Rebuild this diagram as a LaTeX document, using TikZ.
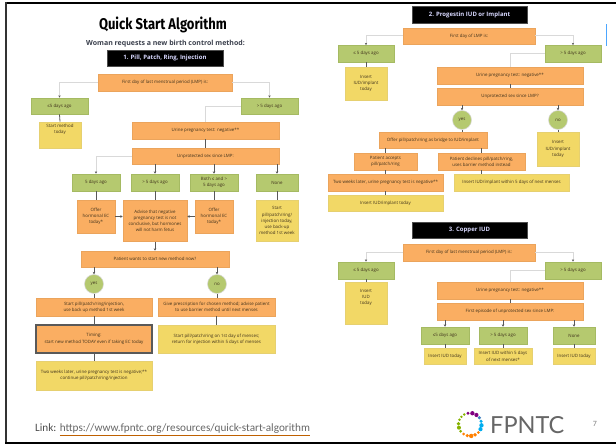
\documentclass[tikz,border=0pt]{standalone}
\usepackage{fontspec}
\usepackage{graphicx}
\setmainfont{Open Sans}
\newfontfamily\titlefont{Fira Sans}
\newfontfamily\slidefont{Carlito}
\newfontfamily\logofont{Lato}
\usetikzlibrary{arrows.meta}
\definecolor{orangefill}{HTML}{FAAE62}
\definecolor{orangeline}{HTML}{EBA45C}
\definecolor{greenfill}{HTML}{B5C96F}
\definecolor{greenline}{HTML}{A5BA62}
\definecolor{yellowfill}{HTML}{F2D866}
\definecolor{yellowline}{HTML}{E6D070}
\definecolor{softline}{HTML}{D9D9D9}
\definecolor{hardline}{HTML}{595959}
\definecolor{inktext}{HTML}{40321C}
\definecolor{subtext}{HTML}{3A3F4C}
\tikzset{
  x=1pt,y=-1pt,
  boxbase/.style={draw,line width=.6pt,inner sep=.5pt,align=center,text=inktext,font=\fontsize{4.4}{6.2}\selectfont},
  orangebox/.style={boxbase,fill=orangefill,draw=orangeline},
  greenbox/.style={boxbase,fill=greenfill,draw=greenline},
  yellowbox/.style={boxbase,fill=yellowfill,draw=yellowline},
  timingbox/.style={boxbase,fill=orangefill,draw=hardline,line width=1.2pt},
  blackbox/.style={draw=black!70,line width=.5pt,fill=black,text=white!85!blue,inner sep=0pt,align=center,font=\fontsize{6}{7}\selectfont\bfseries},
  roundbox/.style={circle,fill=greenfill,draw=white!85!black,line width=.5pt,inner sep=0pt,minimum size=19pt,text=inktext,font=\fontsize{4.4}{6}\selectfont},
  softarrow/.style={draw=softline,line width=1pt,-{Stealth[length=2.4pt,width=2.4pt,color=hardline]}},
  softlink/.style={draw=softline,line width=1pt},
  hardarrow/.style={draw=hardline,line width=.8pt,-{Stealth[length=2.4pt,width=2.6pt]}},
  hardlink/.style={draw=hardline,line width=.8pt},
}
\newcommand{\bx}[7]{\node[#6,minimum width={(#4-#2)*1pt},minimum height={(#5-#3)*1pt}] (#1) at ({(#2+#4)/2},{(#3+#5)/2}) {#7};}
\begin{document}
\begin{tikzpicture}
\useasboundingbox (0,0) rectangle (616,444);
\fill[white] (0,0) rectangle (616,444);
% slide frame
\fill[black] (5,2) rectangle (616,4.5);
\fill[black!80] (5,2) rectangle (7,444);
\fill[black] (5,441.5) rectangle (616,444);
\fill[blue!50!cyan!70!white] (606,24) rectangle (607.2,46);

% ---------- panel 1
\node[font=\titlefont\fontsize{15.5}{17}\selectfont\bfseries,text=black] (title) at (163,25) {\scalebox{.84}[1]{Quick Start Algorithm}};
\node[font=\fontsize{7}{8}\selectfont\bfseries,text=subtext] (sub) at (165.5,43.5) {Woman requests a new birth control method:};
\bx{pa}{107}{50}{223}{66}{blackbox}{1. Pill, Patch, Ring, Injection}
\bx{pafirst}{98}{74}{232}{91}{orangebox}{First day of last menstrual period (LMP) is:}
\bx{pale}{31}{98}{88}{114}{greenbox}{≤5 days ago}
\bx{pagt}{241}{98}{298}{114}{greenbox}{> 5 days ago}
\bx{pastart}{39}{122}{81}{148}{yellowbox}{Start method\\today\\[6pt]}
\bx{paurine}{132}{122}{279}{139}{orangebox}{Urine pregnancy test: negative**}
\bx{pasex}{132}{148}{279}{164}{orangebox}{Unprotected sex since LMP:}
\bx{parowa}{72}{174}{120}{191}{greenbox}{5 days ago}
\bx{parowb}{131}{174}{179}{191}{greenbox}{> 5 days ago}
\bx{parowc}{190}{174}{238}{191}{greenbox}{Both ≤ and >\\5 days ago}
\bx{parowd}{256}{174}{298}{191}{greenbox}{None}
\bx{paofa}{77}{200}{115}{233}{orangebox}{Offer\\hormonal EC\\today*}
\bx{paadv}{123}{200}{187}{241.5}{orangebox}{Advise that negative\\pregnancy test is not\\conclusive, but hormones\\will not harm fetus}
\bx{paofb}{195}{200}{233}{233}{orangebox}{Offer\\hormonal EC\\today*}
\bx{panone}{256}{200}{298}{241.5}{yellowbox}{Start\\pill/patch/ring/\\injection today,\\use back-up\\method 1st week}
\bx{pawant}{81}{251}{229}{267}{orangebox}{Patient wants to start new method now?}
\node[roundbox] (payes) at (94,284) {yes};
\node[roundbox] (pano) at (217,284) {no};
\bx{pause}{36}{298}{152}{316}{orangebox}{Start pill/patch/ring/injection,\\use back up method 1st week}
\bx{pagive}{158}{298}{275}{316}{orangebox}{Give prescription for chosen method; advise patient\\to use barrier method until next menses}
\bx{patime}{36}{325}{152}{353}{timingbox}{Timing:\\start new method TODAY even if taking EC today}
\bx{pamen}{158}{325}{275}{353}{yellowbox}{Start pill/patch/ring on 1st day of menses;\\return for injection within 5 days of menses}
\bx{patwo}{36}{361.5}{152}{390}{yellowbox}{Two weeks later, urine pregnancy test is negative;**\\continue pill/patch/ring/injection}

\draw[softarrow] (pafirst.west) -| (pale.north);
\draw[softarrow] (pafirst.east) -| (pagt.north);
\draw[hardlink] (pale.south) -- (pastart.north);
\draw[softlink] (pagt.west) -| (paurine.north);
\draw[hardlink] (paurine.south) -- (pasex.north);
\draw[softarrow] (pasex.west) -| (parowa.north);
\draw[hardarrow] (pasex.south -| parowb.north) -- (parowb.north);
\draw[hardarrow] (pasex.south -| parowc.north) -- (parowc.north);
\draw[hardarrow] (pasex.south -| parowd.north) -- (parowd.north);
\draw[hardlink] (parowa.south) -- (paofa.north);
\draw[hardlink] (parowb.south) -- (paadv.north);
\draw[hardlink] (parowc.south) -- (paofb.north);
\draw[hardlink] (parowd.south) -- (panone.north);
\draw[hardarrow] (paofa.east) -- (paofa.east -| paadv.west);
\draw[hardarrow] (paofb.west) -- (paofb.west -| paadv.east);
\draw[hardarrow] (paadv.south) -- (paadv.south |- pawant.north);
\draw[hardarrow] (pawant.south -| payes.north) -- (payes.north);
\draw[hardarrow] (pawant.south -| pano.north) -- (pano.north);
\draw[hardlink] (payes.south) -- (payes.south |- pause.north);
\draw[hardlink] (pano.south) -- (pano.south |- pagive.north);
\draw[hardlink] (pause.south) -- (patime.north);
\draw[hardlink] (pagive.south) -- (pamen.north);
\draw[hardlink] (patime.south) -- (patwo.north);

% ---------- panel 2
\bx{pb}{412}{6}{527}{23}{blackbox}{2. Progestin IUD or Implant}
\bx{pbfirst}{403}{28}{535}{44}{orangebox}{First day of LMP is:}
\bx{pble}{338}{45.5}{394}{62}{greenbox}{≤ 5 days ago}
\bx{pbgt}{545}{45.5}{601}{62}{greenbox}{> 5 days ago}
\bx{pbins}{345}{67}{387}{100}{yellowbox}{Insert\\IUD/implant\\today}
\bx{pburine}{437}{67}{583}{84}{orangebox}{Urine pregnancy test: negative**}
\bx{pbsex}{437}{88}{583}{105}{orangebox}{Unprotected sex since LMP?}
\node[roundbox] (pbyes) at (462,120) {yes};
\node[roundbox] (pbno) at (558,120) {no};
\bx{pboffer}{379}{132}{487}{148}{orangebox}{Offer pill/patch/ring as bridge to IUD/implant}
\bx{pbaccept}{354}{153}{417}{170}{orangebox}{Patient accepts\\pill/patch/ring}
\bx{pbdecl}{438}{153}{525}{170}{orangebox}{Patient declines pill/patch/ring,\\uses barrier method instead}
\bx{pbinsno}{537}{132}{579}{166}{yellowbox}{Insert\\IUD/implant\\today}
\bx{pbtwo}{328}{174}{443}{191}{orangebox}{Two weeks later, urine pregnancy test is negative**}
\bx{pbwithin}{454}{174}{569}{191}{yellowbox}{Insert IUD/implant within 5 days of next menses}
\bx{pbtoday}{328}{195}{443}{211}{yellowbox}{Insert IUD/implant today}

\draw[softarrow] (pbfirst.west) -| (pble.north);
\draw[softarrow] (pbfirst.east) -| (pbgt.north);
\draw[hardlink] (pble.south) -- (pble.south |- pbins.north);
\draw[softlink] (pbgt.west) -| (pburine.north);
\draw[hardlink] (pburine.south) -- (pbsex.north);
\draw[hardarrow] (pbsex.south -| pbyes.north) -- (pbyes.north);
\draw[hardarrow] (pbsex.south -| pbno.north) -- (pbno.north);
\draw[hardlink] (pbyes.south) -- (pbyes.south |- pboffer.north);
\draw[hardlink] (pbno.south) -- (pbno.south |- pbinsno.north);
\draw[hardlink] (pboffer.south -| pbaccept.north) -- (pbaccept.north);
\draw[hardlink] (pboffer.south -| pbdecl.north) -- (pbdecl.north);
\draw[hardlink] (pbaccept.south) -- (pbaccept.south |- pbtwo.north);
\draw[hardlink] (pbdecl.south) -- (pbdecl.south |- pbwithin.north);
\draw[hardlink] (pbtwo.south -| pbaccept.south) -- (pbtoday.north -| pbaccept.south);

% ---------- panel 3
\bx{pc}{412}{222}{527}{238.5}{blackbox}{3. Copper IUD}
\bx{pcfirst}{403}{244}{535}{261}{orangebox}{First day of last menstrual period (LMP) is:}
\bx{pcle}{338}{262}{394}{279}{greenbox}{≤ 5 days ago}
\bx{pcgt}{545}{262}{601}{279}{greenbox}{> 5 days ago}
\bx{pcins}{345}{282.5}{387}{324}{yellowbox}{Insert\\IUD\\today\\[7pt]}
\bx{pcurine}{437}{282.5}{583}{299}{orangebox}{Urine pregnancy test: negative**}
\bx{pcsex}{437}{303.5}{583}{320}{orangebox}{First episode of unprotected sex since LMP:}
\bx{pcrowa}{421}{327}{469}{344}{greenbox}{≤5 days ago}
\bx{pcrowb}{479}{327}{527}{344}{greenbox}{> 5 days ago}
\bx{pcrowc}{553}{327}{595}{344}{greenbox}{None}
\bx{pcresa}{424}{348}{466}{364.5}{yellowbox}{Insert IUD today}
\bx{pcresb}{474}{348}{532}{364.5}{yellowbox}{Insert IUD within 5 days\\of next menses*}
\bx{pcresc}{553}{348}{595}{364.5}{yellowbox}{Insert IUD today}

\draw[softarrow] (pcfirst.west) -| (pcle.north);
\draw[softarrow] (pcfirst.east) -| (pcgt.north);
\draw[hardlink] (pcle.south) -- (pcle.south |- pcins.north);
\draw[softlink] (pcgt.west) -| (pcurine.north);
\draw[hardlink] (pcurine.south) -- (pcsex.north);
\draw[hardarrow] (pcsex.south -| pcrowa.north) -- (pcrowa.north);
\draw[hardarrow] (pcsex.south -| pcrowb.north) -- (pcrowb.north);
\draw[hardarrow] (pcsex.south -| pcrowc.north) -- (pcrowc.north);
\draw[hardlink] (pcrowa.south) -- (pcresa.north);
\draw[hardlink] (pcrowb.south) -- (pcrowb.south |- pcresb.north);
\draw[hardlink] (pcrowc.south) -- (pcresc.north);

% ---------- footer
\node[anchor=west,inner sep=0pt,font=\slidefont\fontsize{11.2}{13}\selectfont,text=black!70] (linklabel) at (35,430) {Link: {\color{orange!75!black}\underline{\color{black!60}https://www.fpntc.org/resources/quick-start-algorithm}}};
\foreach \a/\c/\r in {
  100/violet/1.6,78/violet/2.2,56/violet/2.1,36/violet!50!cyan/1.7,
  16/cyan/1.7,-4/cyan/2.2,-24/cyan/2.1,
  -44/orange/1.5,-64/orange/1.9,-84/orange/2.2,-104/orange/1.8,-124/orange/1.5,
  -144/lime!70!black/1.5,-164/lime!70!black/2,176/lime!70!black/1.9,156/lime!70!black/1.4,
  138/lime!70!black/1.3,120/lime!70!black/1.3}
  \fill[\c] ({470+11.5*cos(\a)},{424.5-11.5*sin(\a)}) circle (\r);
\node[anchor=west,inner sep=0pt,font=\logofont\fontsize{23.5}{24}\selectfont,text=black!60] (logo) at (490,425) {FPNTC};
\node[inner sep=0pt,font=\slidefont\fontsize{8}{9}\selectfont,text=black!50] (pageno) at (595,424) {7};
\end{tikzpicture}
\end{document}
